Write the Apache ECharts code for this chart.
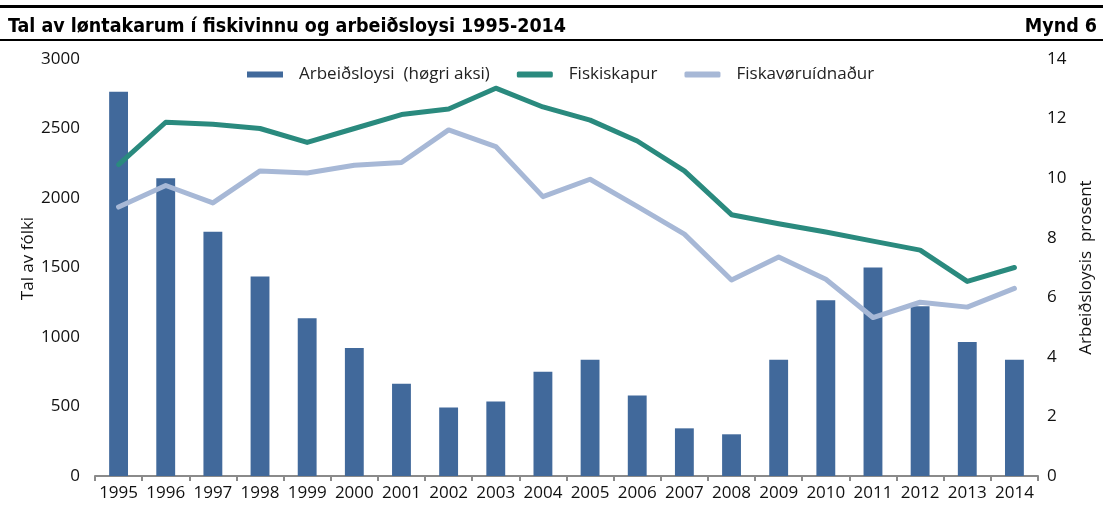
<!DOCTYPE html>
<html>
<head>
<meta charset="utf-8">
<script src="https://cdn.jsdelivr.net/npm/echarts@6/dist/echarts.min.js"></script>
<style>
  html, body { margin: 0; padding: 0; background: #fff; }
  #chart { width: 1103px; height: 516px; }
</style>
</head>
<body>
<div id="chart"></div>
<script>
const years = ['1995', '1996', '1997', '1998', '1999', '2000', '2001', '2002', '2003', '2004',
  '2005', '2006', '2007', '2008', '2009', '2010', '2011', '2012', '2013', '2014']

// Arbeiðsloysi, prosent (høgri aksi)
const unemployment = [12.9, 10.0, 8.2, 6.7, 5.3, 4.3, 3.1, 2.3, 2.5, 3.5,
  3.9, 2.7, 1.6, 1.4, 3.9, 5.9, 7.0, 5.7, 4.5, 3.9]

// Tal av fólki
const fishing = [2240, 2545, 2530, 2500, 2400, 2500, 2600, 2640, 2790, 2655,
  2560, 2410, 2195, 1880, 1815, 1755, 1690, 1625, 1400, 1500]
const processing = [1935, 2090, 1965, 2195, 2180, 2235, 2255, 2490, 2370, 2010,
  2135, 1940, 1740, 1410, 1575, 1415, 1140, 1250, 1215, 1350]

const font = "'Open Sans', 'Noto Sans', sans-serif"
const titleFont = "'Liberation Sans Narrow', 'DejaVu Sans Condensed', sans-serif"

const chart = echarts.init(document.getElementById('chart'))

chart.setOption({
  backgroundColor: '#fff',
  animation: false,
  textStyle: { fontFamily: font },
  graphic: [
    { type: 'rect', shape: { x: 0, y: 5, width: 1103, height: 3 }, style: { fill: '#000' } },
    { type: 'rect', shape: { x: 0, y: 39, width: 1103, height: 2 }, style: { fill: '#000' } },
    {
      type: 'text', left: 8, top: 17,
      style: { text: 'Tal av løntakarum í fiskivinnu og arbeiðsloysi 1995-2014', fontFamily: titleFont, fontWeight: 'bold', fontSize: 19.5, fill: '#000' }
    },
    {
      type: 'text', right: 6, top: 17,
      style: { text: 'Mynd 6', fontFamily: titleFont, fontWeight: 'bold', fontSize: 19.5, fill: '#000' }
    }
  ],
  legend: {
    left: 242,
    top: 61,
    itemGap: 27,
    itemWidth: 36,
    itemHeight: 6,
    textStyle: { fontSize: 17, color: '#222', fontFamily: font, padding: [0, 0, 0, 11] },
    data: [
      { name: 'Arbeiðsloysi  (høgri aksi)', icon: 'rect' },
      { name: 'Fiskiskapur', icon: 'roundRect' },
      { name: 'Fiskavøruídnaður', icon: 'roundRect' }
    ]
  },
  grid: { left: 95, right: 62, top: 59, bottom: 40 },
  xAxis: {
    type: 'category',
    data: years,
    boundaryGap: true,
    axisLine: { lineStyle: { color: '#8a8a8a', width: 2 } },
    axisTick: { show: true, alignWithLabel: false, length: 5, lineStyle: { color: '#8a8a8a', width: 2 } },
    axisLabel: { interval: 0, fontSize: 17, color: '#111', margin: 9 }
  },
  yAxis: [
    {
      type: 'value',
      min: 0, max: 3000, interval: 500,
      name: 'Tal av fólki',
      nameLocation: 'middle',
      nameGap: 58,
      nameMoveOverlap: false,
      nameTextStyle: { fontSize: 17, color: '#111', padding: [0, 0, 0, 18] },
      axisLine: { show: false },
      axisTick: { show: false },
      splitLine: { show: false },
      axisLabel: { fontSize: 17, color: '#111', margin: 15, formatter: v => String(v) }
    },
    {
      type: 'value',
      min: 0, max: 14, interval: 2,
      name: 'Arbeiðsloysis  prosent',
      nameLocation: 'middle',
      nameGap: 40,
      nameMoveOverlap: false,
      nameRotate: 90,
      nameTextStyle: { fontSize: 17, color: '#111', padding: [0, 0, 50, 0] },
      axisLine: { show: false },
      axisTick: { show: false },
      splitLine: { show: false },
      axisLabel: { fontSize: 17, color: '#111', margin: 9 }
    }
  ],
  series: [
    {
      name: 'Arbeiðsloysi  (høgri aksi)',
      type: 'bar',
      yAxisIndex: 1,
      data: unemployment,
      barWidth: '40%',
      itemStyle: { color: '#41699b' },
      z: 1
    },
    {
      name: 'Fiskiskapur',
      type: 'line',
      data: fishing,
      symbol: 'none',
      lineStyle: { color: '#2a8a7e', width: 5, cap: 'round', join: 'round' },
      itemStyle: { color: '#2a8a7e' },
      z: 3
    },
    {
      name: 'Fiskavøruídnaður',
      type: 'line',
      data: processing,
      symbol: 'none',
      lineStyle: { color: '#a7b8d6', width: 5, cap: 'round', join: 'round' },
      itemStyle: { color: '#a7b8d6' },
      z: 2
    }
  ]
})
</script>
</body>
</html>
